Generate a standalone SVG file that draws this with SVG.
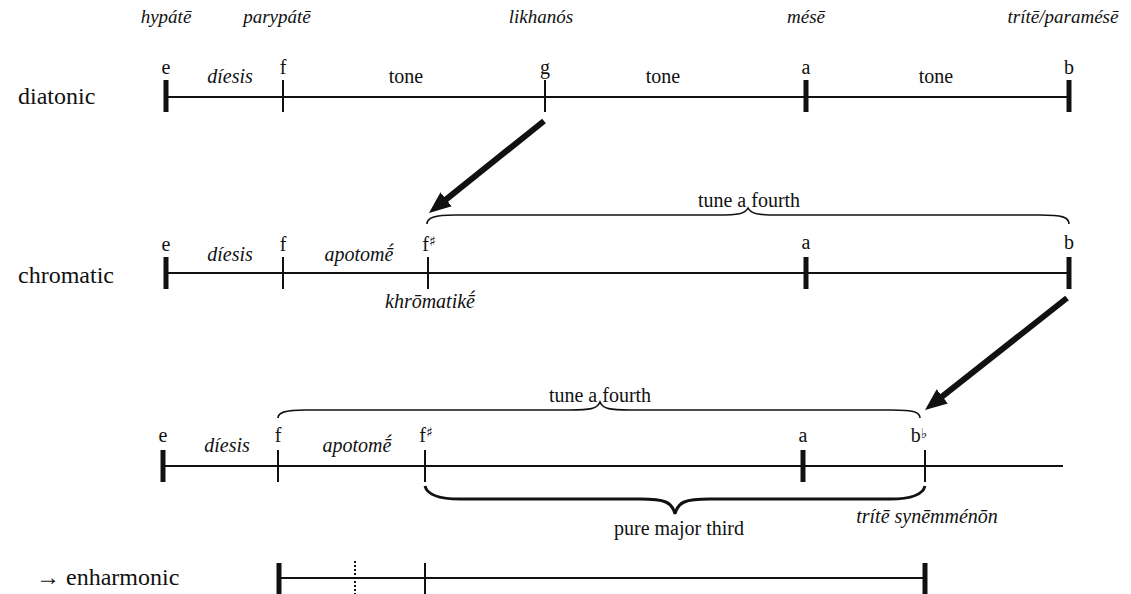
<svg xmlns="http://www.w3.org/2000/svg" width="1131" height="594" viewBox="0 0 1131 594" font-family="'Liberation Serif', 'Times New Roman', Tinos, 'DejaVu Serif', 'Noto Serif', serif">
  <style>
    text { font-family: 'Liberation Serif', 'Times New Roman', Tinos, 'DejaVu Serif', 'Noto Serif', serif; fill: #111; }
    .name { font-size: 19px; font-style: italic; text-anchor: middle; }
    .row { font-size: 24px; }
    .note { font-size: 20px; text-anchor: middle; }
    .iv { font-size: 20px; text-anchor: middle; }
    .ivi { font-size: 20px; font-style: italic; text-anchor: middle; }
    .acc { font-family: 'DejaVu Sans', 'DejaVu Serif', sans-serif; font-size: 14px; }
    .base { stroke: #111; stroke-width: 2; fill: none; }
    .thin { stroke: #111; stroke-width: 2; }
    .thick { stroke: #111; stroke-width: 5; }
    .dot { stroke: #111; stroke-width: 2; stroke-dasharray: 2 2; }
    .brace { stroke: #111; stroke-width: 1.6; fill: none; }
    .brace-b { stroke: #111; stroke-width: 3; fill: none; }
    .arrow { stroke: #111; stroke-width: 6; fill: none; marker-end: url(#head); }
  </style>
  <defs>
    <marker id="head" markerUnits="userSpaceOnUse" viewBox="0 0 22 18" markerWidth="22" markerHeight="18" refX="8" refY="9" orient="auto">
      <path d="M0,0 L22,9 L0,18 Z" fill="#111"/>
    </marker>
  </defs>

  <!-- string names -->
  <g id="names">
    <text class="name" x="166" y="23">hypátē</text>
    <text class="name" x="277" y="23">parypátē</text>
    <text class="name" x="541" y="23">likhanós</text>
    <text class="name" x="806" y="23">mésē</text>
    <text class="name" x="1063" y="23">trítē/paramésē</text>
  </g>

  <!-- diatonic -->
  <g id="diatonic">
    <text class="row" x="18" y="104">diatonic</text>
    <line class="base" x1="166" y1="97" x2="1069" y2="97"/>
    <line class="thick" x1="166" y1="80" x2="166" y2="112"/>
    <line class="thin" x1="283" y1="80" x2="283" y2="112"/>
    <line class="thin" x1="545" y1="80" x2="545" y2="112"/>
    <line class="thick" x1="806" y1="80" x2="806" y2="112"/>
    <line class="thick" x1="1069" y1="80" x2="1069" y2="112"/>
    <text class="note" x="166" y="74">e</text>
    <text class="note" x="283" y="74">f</text>
    <text class="note" x="545" y="74">g</text>
    <text class="note" x="806" y="74">a</text>
    <text class="note" x="1069" y="74">b</text>
    <text class="ivi" x="230" y="83">díesis</text>
    <text class="iv" x="406" y="83">tone</text>
    <text class="iv" x="663" y="83">tone</text>
    <text class="iv" x="936" y="83">tone</text>
  </g>

  <!-- chromatic -->
  <g id="chromatic">
    <text class="row" x="18" y="283">chromatic</text>
    <line class="base" x1="166" y1="273" x2="1069" y2="273"/>
    <line class="thick" x1="166" y1="257" x2="166" y2="289"/>
    <line class="thin" x1="283" y1="257" x2="283" y2="289"/>
    <line class="thin" x1="428" y1="257" x2="428" y2="289"/>
    <line class="thick" x1="806" y1="257" x2="806" y2="289"/>
    <line class="thick" x1="1069" y1="257" x2="1069" y2="289"/>
    <text class="note" x="166" y="251">e</text>
    <text class="note" x="283" y="251">f</text>
    <text class="note" x="429" y="251">f<tspan class="acc" dy="-5">♯</tspan></text>
    <text class="note" x="806" y="249">a</text>
    <text class="note" x="1069" y="249">b</text>
    <text class="ivi" x="230" y="261">díesis</text>
    <text class="ivi" x="359" y="261">apotomḗ</text>
    <text class="ivi" x="430" y="308">khrōmatikḗ</text>
    <path class="brace" d="M427,224 C427,218 434,215 455,215 L718,215 C738,215 745,214 748,208 C751,214 758,215 778,215 L1040,215 C1062,215 1069,217 1069,224"/>
    <text class="iv" x="749" y="207">tune a fourth</text>
  </g>

  <!-- retuned chromatic -->
  <g id="retuned">
    <line class="base" x1="163" y1="466" x2="1063" y2="466"/>
    <line class="thick" x1="163" y1="450" x2="163" y2="482"/>
    <line class="thin" x1="278" y1="450" x2="278" y2="482"/>
    <line class="thin" x1="425" y1="450" x2="425" y2="482"/>
    <line class="thick" x1="803" y1="450" x2="803" y2="482"/>
    <line class="thin" x1="925" y1="450" x2="925" y2="482"/>
    <text class="note" x="163" y="442">e</text>
    <text class="note" x="278" y="442">f</text>
    <text class="note" x="426" y="442">f<tspan class="acc" dy="-5">♯</tspan></text>
    <text class="note" x="919" y="442">b<tspan class="acc" dy="-4">♭</tspan></text>
    <text class="note" x="803" y="442">a</text>
    <text class="ivi" x="227" y="452">díesis</text>
    <text class="ivi" x="357" y="452">apotomḗ</text>
    <path class="brace" d="M278,418 C278,413 284,410 305,410 L570,410 C590,410 597,409 600,402 C603,409 610,410 630,410 L892,410 C914,410 920,412 920,418"/>
    <text class="iv" x="600" y="402">tune a fourth</text>
    <path class="brace-b" d="M425,486 C427,494 436,499 460,499 L640,499 C665,499 672,502 675,514 C678,502 685,499 710,499 L890,499 C914,499 923,494 925,486"/>
    <text class="iv" x="679" y="535">pure major third</text>
    <text class="ivi" x="927" y="523">trítē synēmménōn</text>
  </g>

  <!-- enharmonic -->
  <g id="enharmonic">
    <text class="row" x="36" y="585">→ enharmonic</text>
    <line class="base" x1="278" y1="578" x2="925" y2="578"/>
    <line class="thick" x1="279" y1="563" x2="279" y2="594"/>
    <line class="dot" x1="355" y1="561" x2="355" y2="594"/>
    <line class="thin" x1="425" y1="563" x2="425" y2="594"/>
    <line class="thick" x1="925" y1="563" x2="925" y2="594"/>
  </g>

  <!-- connectors -->
  <g id="connectors">
    <line class="arrow" x1="544" y1="121" x2="439.9" y2="204.3"/>
    <line class="arrow" x1="1067" y1="298" x2="936" y2="401.3"/>
  </g>
</svg>
